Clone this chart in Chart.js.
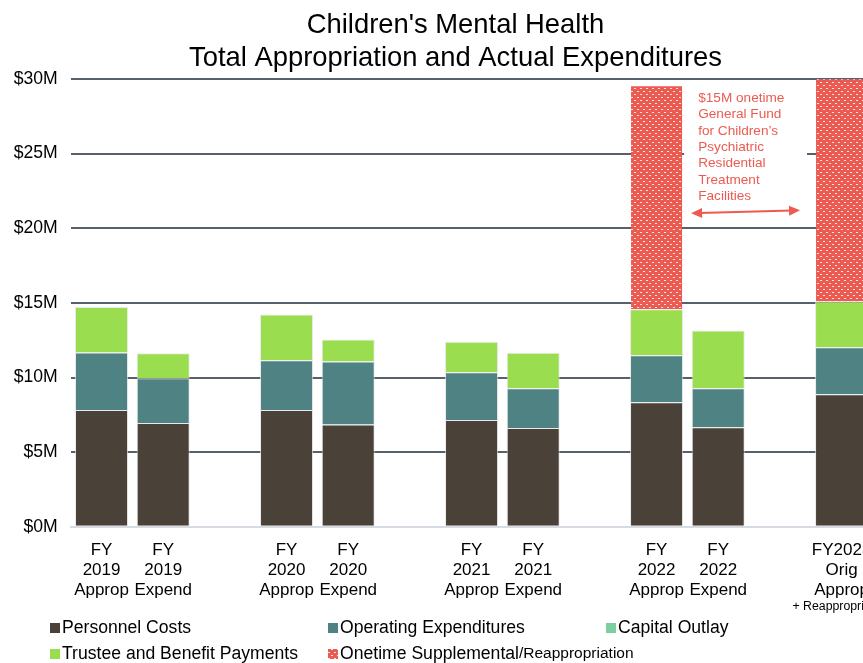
<!DOCTYPE html>
<html>
<head>
<meta charset="utf-8">
<script src="https://cdn.jsdelivr.net/npm/chart.js@4.4.1/dist/chart.umd.min.js"></script>
<style>
  html, body { margin: 0; padding: 0; background: #fff; overflow: hidden; }
  #wrap { width: 911px; height: 663px; }
</style>
</head>
<body>
<div id="wrap"><canvas id="chart" width="911" height="663"></canvas></div>
<script>
// categories (blank slots give the gaps between fiscal years)
var labels = [
  ["FY", "2019", "Approp"], ["FY", "2019", "Expend"], "",
  ["FY", "2020", "Approp"], ["FY", "2020", "Expend"], "",
  ["FY", "2021", "Approp"], ["FY", "2021", "Expend"], "",
  ["FY", "2022", "Approp"], ["FY", "2022", "Expend"], "",
  ["FY2023", "Orig", "Approp"]
];

// values in $ millions
var personnel  = [7.83, 6.96, null, 7.83, 6.85, null, 7.16, 6.62, null, 8.34, 6.67, null, 8.88];
var operating  = [3.85, 2.99, null, 3.33, 4.22, null, 3.20, 2.66, null, 3.16, 2.61, null, 3.15];
var capital    = [0, 0, null, 0, 0, null, 0, 0, null, 0, 0, null, 0];
var trustee    = [3.04, 1.68, null, 3.07, 1.48, null, 2.04, 2.38, null, 3.08, 3.87, null, 3.07];
var onetime    = [0, 0, null, 0, 0, null, 0, 0, null, 15.0, 0, null, 14.95];

var yTicks = [0, 5, 10, 15, 20, 25, 30];

var titleLines = ["Children's Mental Health", "Total Appropriation and Actual Expenditures"];
var noteLines = ["$15M onetime", "General Fund", "for Children\u2019s", "Psychiatric",
  "Residential", "Treatment", "Facilities"];

var FONT = "'Liberation Sans', Arial, sans-serif";
var RED = "#EC5B51";

function dotPattern() {
  var c = document.createElement("canvas");
  c.width = 6; c.height = 6;
  var g = c.getContext("2d");
  g.fillStyle = RED;
  g.fillRect(0, 0, 6, 6);
  g.fillStyle = "rgba(255,255,255,0.85)";
  g.fillRect(1, 1, 2, 1);
  g.fillRect(4, 4, 2, 1);
  return g.createPattern(c, "repeat");
}
var redDots = dotPattern();

function ds(label, data, color) {
  return {
    label: label,
    data: data,
    backgroundColor: color,
    borderColor: "rgba(225,225,225,0.75)",
    borderWidth: 1,
    barPercentage: 0.86,
    categoryPercentage: 1.0
  };
}

var datasets = [
  ds("Personnel Costs", personnel, "#4A4238"),
  ds("Operating Expenditures", operating, "#4F8282"),
  ds("Capital Outlay", capital, "#7CCFA0"),
  ds("Trustee and Benefit Payments", trustee, "#9ADD4F"),
  ds("Onetime Supplemental", onetime, redDots)
];
datasets[4].legendSuffix = "/Reappropriation";
datasets[4].borderColor = "rgba(0,0,0,0)";

// title centred on the whole (wider, cropped) canvas
var titlePlugin = {
  id: "bigTitle",
  beforeDraw: function (chart) {
    var ctx = chart.ctx;
    ctx.save();
    ctx.fillStyle = "#000";
    ctx.font = "27.4px " + FONT;
    ctx.textAlign = "center";
    ctx.textBaseline = "middle";
    ctx.fillText(titleLines[0], chart.width / 2, 25.4);
    ctx.fillText(titleLines[1], chart.width / 2, 58.3);
    ctx.restore();
  }
};

// note box + double arrow for the onetime funding
var notePlugin = {
  id: "note",
  afterDatasetsDraw: function (chart) {
    var ctx = chart.ctx, x = chart.scales.x, y = chart.scales.y;
    var half = x.width / labels.length * 0.86 / 2;
    var boxL = x.getPixelForValue(9) + half + 1;
    var boxR = x.getPixelForValue(12) - half - 8;
    ctx.save();
    ctx.fillStyle = "#fff";
    ctx.fillRect(boxL, y.getPixelForValue(29.6), boxR - boxL, y.getPixelForValue(21.6) - y.getPixelForValue(29.6));
    ctx.fillStyle = RED;
    ctx.font = "13.6px " + FONT;
    ctx.textAlign = "left";
    ctx.textBaseline = "alphabetic";
    var tx = x.getPixelForValue(10) - 20;
    var ty = y.getPixelForValue(28.45);
    for (var i = 0; i < noteLines.length; i++) {
      ctx.fillText(noteLines[i], tx, ty + i * 16.3);
    }
    // arrow
    var x1 = x.getPixelForValue(9) + half + 8, y1 = y.getPixelForValue(21.0);
    var x2 = x.getPixelForValue(12) - half - 15, y2 = y.getPixelForValue(21.2);
    var ang = Math.atan2(y2 - y1, x2 - x1);
    ctx.strokeStyle = RED;
    ctx.lineWidth = 2;
    ctx.beginPath();
    ctx.moveTo(x1 + 8 * Math.cos(ang), y1 + 8 * Math.sin(ang));
    ctx.lineTo(x2 - 8 * Math.cos(ang), y2 - 8 * Math.sin(ang));
    ctx.stroke();
    function head(px, py, a) {
      ctx.beginPath();
      ctx.moveTo(px, py);
      ctx.lineTo(px - 11 * Math.cos(a) + 5 * Math.sin(a), py - 11 * Math.sin(a) - 5 * Math.cos(a));
      ctx.lineTo(px - 11 * Math.cos(a) - 5 * Math.sin(a), py - 11 * Math.sin(a) + 5 * Math.cos(a));
      ctx.closePath();
      ctx.fill();
    }
    head(x2, y2, ang);
    head(x1, y1, ang + Math.PI);
    // small note under the last category
    ctx.fillStyle = "#000";
    ctx.font = "12.3px " + FONT;
    ctx.textAlign = "center";
    ctx.textBaseline = "middle";
    ctx.fillText("+ Reappropriation", x.getPixelForValue(12), 607);
    ctx.restore();
  }
};

// legend laid out in a 3 column grid
var legendPlugin = {
  id: "gridLegend",
  afterDraw: function (chart) {
    var ctx = chart.ctx;
    ctx.save();
    chart.data.datasets.forEach(function (d, i) {
      var lx = 50 + (i % 3) * 278;
      var ly = 628 + Math.floor(i / 3) * 26;
      ctx.fillStyle = d.backgroundColor;
      ctx.fillRect(lx, ly - 5, 10, 10);
      ctx.fillStyle = "#000";
      ctx.font = "17.6px " + FONT;
      ctx.textAlign = "left";
      ctx.textBaseline = "middle";
      ctx.fillText(d.label, lx + 12, ly);
      if (d.legendSuffix) {
        var w = ctx.measureText(d.label).width;
        ctx.font = "15.5px " + FONT;
        ctx.fillText(d.legendSuffix, lx + 12 + w, ly);
      }
    });
    ctx.restore();
  }
};

new Chart(document.getElementById("chart"), {
  type: "bar",
  data: { labels: labels, datasets: datasets },
  plugins: [titlePlugin, notePlugin, legendPlugin],
  options: {
    responsive: false,
    animation: false,
    layout: { padding: { left: 14, right: 38.6, top: 79, bottom: 57 } },
    plugins: {
      legend: { display: false },
      tooltip: { enabled: false },
      title: { display: false }
    },
    scales: {
      x: {
        stacked: true,
        grid: { display: false },
        border: { display: true, color: "#D6DCE2", width: 2 },
        ticks: {
          color: "#000",
          autoSkip: false,
          maxRotation: 0,
          padding: 5,
          font: { family: FONT, size: 17, lineHeight: 1.2 }
        }
      },
      y: {
        stacked: true,
        min: 0,
        max: 30,
        afterFit: function (s) { s.width = 56.7; },
        afterBuildTicks: function (s) {
          s.ticks = yTicks.map(function (v) { return { value: v }; });
        },
        border: { display: false },
        grid: {
          drawTicks: false,
          lineWidth: 2,
          color: function (c) { return c.tick && c.tick.value === 0 ? "rgba(0,0,0,0)" : "#56616B"; }
        },
        ticks: {
          color: "#000",
          padding: 13,
          font: { family: FONT, size: 17.6 },
          callback: function (v) { return "$" + v + "M"; }
        }
      }
    }
  }
});
</script>
</body>
</html>
